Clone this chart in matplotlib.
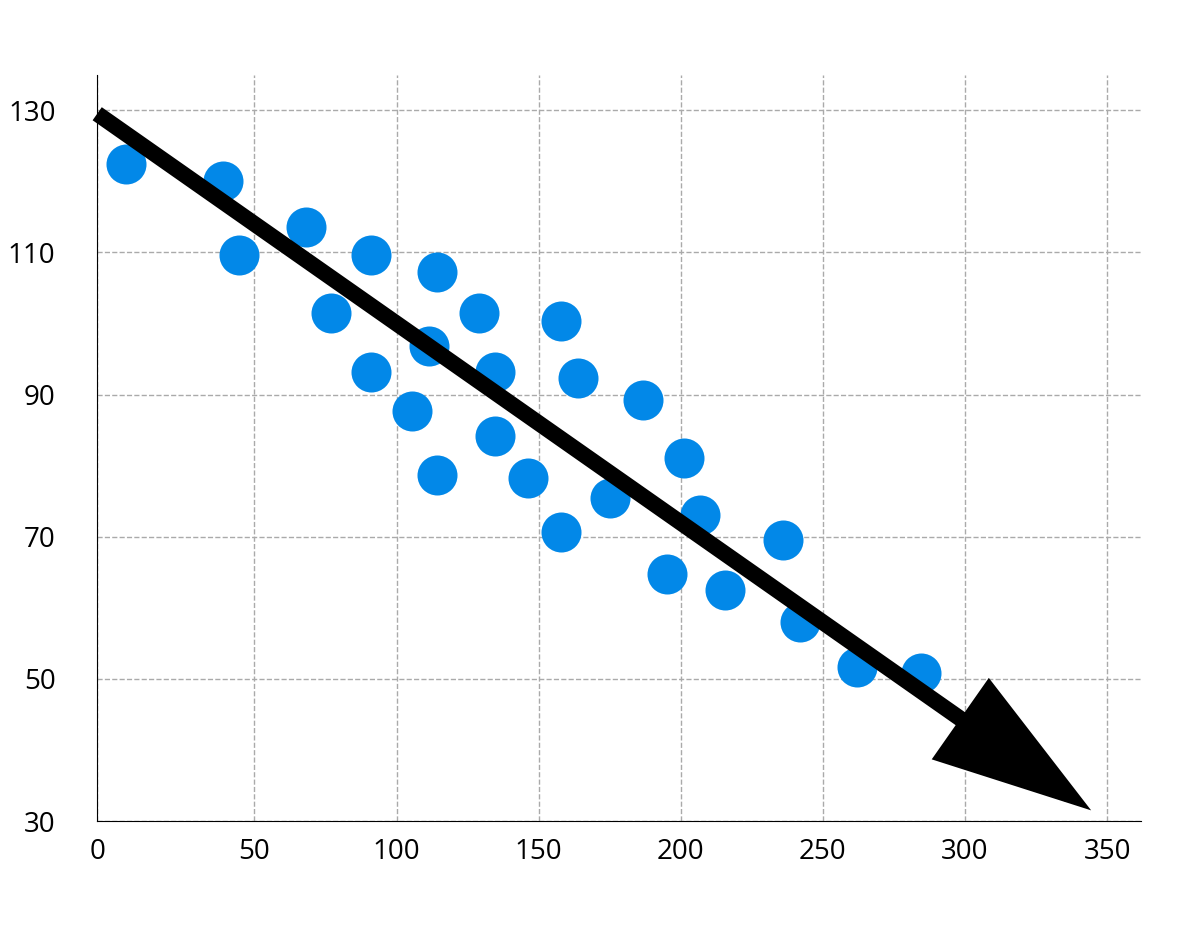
import matplotlib
matplotlib.use("Agg")
import matplotlib.pyplot as plt
from matplotlib.patches import FancyArrowPatch

plt.rcParams['font.family'] = ['Open Sans', 'DejaVu Sans']

x = [4.9, 39.1, 44.7, 68, 76.8, 91.2, 91.2, 105.6, 111.6, 114.1, 114.1, 128.9, 134.5, 134.5,
     146.1, 157.7, 157.7, 163.7, 175, 186.6, 195.1, 201.1, 206.7, 215.5, 235.9, 241.9, 262, 284.5]
y = [122.4, 120, 109.6, 113.5, 101.5, 109.6, 93.2, 87.7, 96.8, 107.3, 78.7, 101.5, 93.2, 84.2,
     78.3, 100.4, 70.7, 92.3, 75.4, 89.2, 64.8, 81.1, 73, 62.5, 69.6, 58, 51.7, 50.8]
trend_x = [-5.3, 344.4]
trend_y = [129.5, 31.5]
xticks = [50, 100, 150, 200, 250, 300, 350]
yticks = [30, 50, 70, 90, 110, 130]

fig = plt.figure(figsize=(12, 9.33), dpi=100)
ax = fig.add_axes([0.081, 0.12, 0.87, 0.8])
xmin, xmax = -5.3, 362
ax.set_xlim(xmin, xmax)
ax.set_ylim(30, 135)
ax.set_xticks([xmin] + xticks)
ax.set_xticklabels(['0'] + [str(t) for t in xticks])
ax.set_yticks(yticks)
ax.tick_params(labelsize=20, length=0)
ax.tick_params(axis='y', pad=30)
ax.tick_params(axis='x', pad=12)
ax.grid(True, linestyle='--', color='#aaaaaa', linewidth=1)
ax.set_axisbelow(True)
for s in ['top', 'right']:
    ax.spines[s].set_visible(False)

ax.scatter(x, y, s=830, color='#0288e8', zorder=3, linewidths=0)
arr = FancyArrowPatch((trend_x[0], trend_y[0]), (trend_x[1], trend_y[1]),
                      arrowstyle='-|>,head_length=4.5,head_width=1.4', mutation_scale=20,
                      color='black', linewidth=11.5, shrinkA=0, shrinkB=0, zorder=4,
                      clip_on=False, capstyle='butt', joinstyle='miter')
ax.add_patch(arr)
fig.savefig('out.png')
